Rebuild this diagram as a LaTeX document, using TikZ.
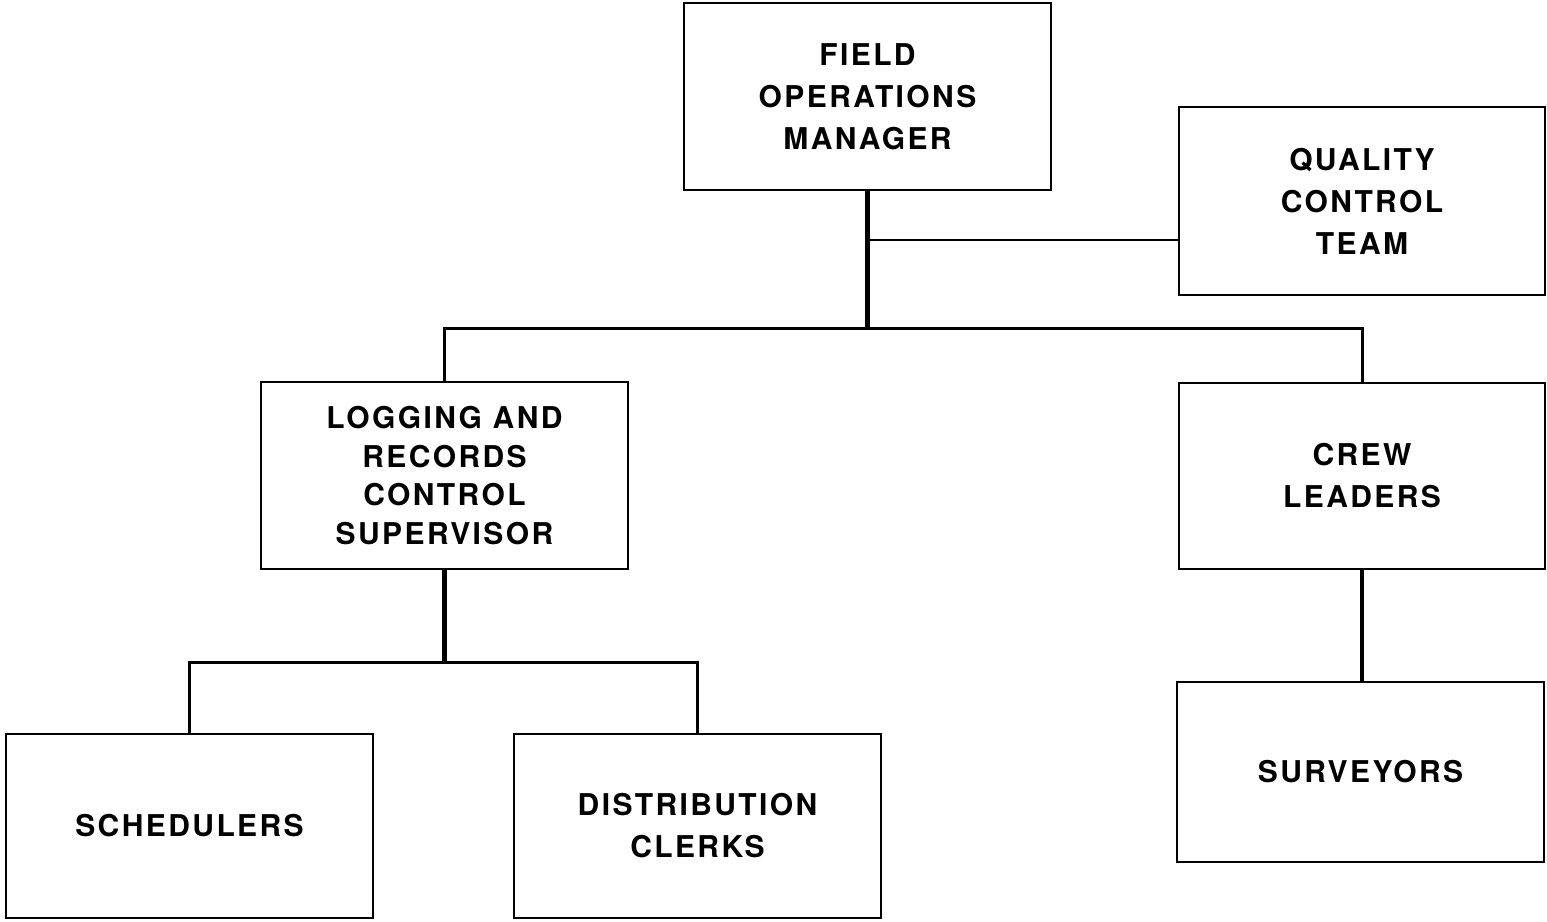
\documentclass[tikz,border=0pt]{standalone}
\usepackage{fontspec}
\setmainfont{TeX Gyre Heros}[LetterSpace=8]
\begin{document}
\begin{tikzpicture}[x=0.5pt,y=-0.5pt,
  orgbox/.style={draw,line width=1.2pt,inner sep=0pt,align=center,
    font=\bfseries\fontsize{15}{21}\selectfont},
  trunk/.style={line width=2.3pt},
  link/.style={line width=1.5pt},
  thin link/.style={line width=1pt}]
\useasboundingbox (0,0) rectangle (1547,921);
\node[orgbox,minimum width=183.5pt,minimum height=93.5pt] (fom) at (867.5,96.5) {FIELD\\OPERATIONS\\MANAGER};
\node[orgbox,minimum width=183pt,minimum height=94pt] (qc) at (1362,201) {QUALITY\\CONTROL\\TEAM};
\node[orgbox,minimum width=183.5pt,minimum height=93.5pt,
  font=\bfseries\fontsize{15}{19.3}\selectfont] (log) at (444.5,475.5) {LOGGING AND\\RECORDS\\CONTROL\\SUPERVISOR};
\node[orgbox,minimum width=183pt,minimum height=93pt] (crew) at (1362,476) {CREW\\LEADERS};
\node[orgbox,minimum width=183.5pt,minimum height=92pt] (sched) at (189.5,826) {SCHEDULERS};
\node[orgbox,minimum width=183.5pt,minimum height=92pt] (dist) at (697.5,826) {DISTRIBUTION\\CLERKS};
\node[orgbox,minimum width=183.5pt,minimum height=90pt] (surv) at (1360.5,772) {SURVEYORS};
\coordinate (j1) at (fom.south |- 0,328);
\coordinate (qcj) at (qc.west |- 0,240);
\coordinate (j2) at (log.south |- 0,662);
\draw[trunk] (fom.south) -- (j1);
\draw[thin link] (qcj) -- (qcj -| fom.south);
\draw[link] (log.north) -- (log.north |- j1) -- (crew.north |- j1) -- (crew.north);
\draw[trunk] (log.south) -- (j2);
\draw[link] (sched.north) -- (sched.north |- j2) -- (dist.north |- j2) -- (dist.north);
\draw[trunk] (crew.south) -- (crew.south |- surv.north);
\end{tikzpicture}
\end{document}
